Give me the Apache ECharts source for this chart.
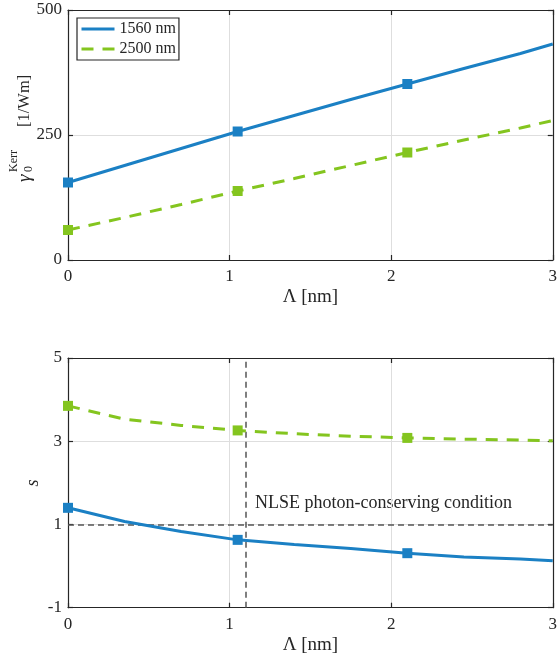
<!DOCTYPE html>
<html><head><meta charset="utf-8">
<script src="https://cdn.jsdelivr.net/npm/echarts@6/dist/echarts.min.js"></script>
<style>html,body{margin:0;padding:0;background:#fff}#c{width:560px;height:664px}</style>
</head><body><div id="c"></div>
<script>
// ---- data ----
const lambdaNm = [0, 0.35, 0.7, 1.05, 1.4, 1.75, 2.1, 2.45, 2.8, 3.0];
const markerIndex = [0, 3, 6];
const seriesNames = ['1560 nm', '2500 nm'];
const gamma1560 = [155, 189, 223, 257, 289, 321, 352, 383, 413, 432];
const gamma2500 = [60, 85, 111, 138, 163, 189, 215, 240, 264, 279];
const s1560 = [1.40, 1.07, 0.83, 0.63, 0.52, 0.42, 0.31, 0.22, 0.17, 0.13];
const s2500 = [3.85, 3.53, 3.38, 3.26, 3.18, 3.12, 3.08, 3.05, 3.03, 3.01];
const xTicks = [0, 1, 2, 3];
const gammaTicks = [0, 250, 500];
const sTicks = [-1, 1, 3, 5];
const conditionS = 1;
const conditionLambda = 1.1;
const conditionText = 'NLSE photon-conserving condition';
const xName = 'Λ [nm]';
const sName = 's';

// ---- style ----
const FONT = "'Liberation Serif','DejaVu Serif',serif";
const INK = '#262626';
const BLUE = '#1b80c4';
const GREEN = '#84c51f';
const GRIDC = '#dedede';

const zip = (xs, ys) => xs.map((x, i) => [x, ys[i]]);
const sym = (v, p) => markerIndex.includes(p.dataIndex) ? 'rect' : 'none';

function xAx(gi, pos) {
  const main = pos === 'bottom';
  return {
    type: 'value', gridIndex: gi, position: pos, min: xTicks[0], max: xTicks[xTicks.length - 1], interval: 1,
    name: main ? xName : '', nameLocation: 'middle', nameGap: 28,
    nameTextStyle: { fontFamily: FONT, fontSize: 19, color: INK },
    axisLine: { show: true, onZero: false, lineStyle: { color: INK, width: 1.2 } },
    axisTick: { show: true, inside: true, length: 5, lineStyle: { color: INK, width: 1.2 } },
    axisLabel: { show: main, fontFamily: FONT, fontSize: 17, color: INK, margin: 8 },
    splitLine: { show: main, lineStyle: { color: GRIDC, width: 1 } }
  };
}
function yAx(gi, pos, ticks) {
  const main = pos === 'left';
  return {
    type: 'value', gridIndex: gi, position: pos, min: ticks[0], max: ticks[ticks.length - 1],
    axisLine: { show: true, onZero: false, lineStyle: { color: INK, width: 1.2 } },
    axisTick: { show: true, inside: true, length: 5, lineStyle: { color: INK, width: 1.2 }, customValues: ticks },
    axisLabel: { show: main, fontFamily: FONT, fontSize: 17, color: INK, margin: 6, customValues: ticks },
    splitLine: { show: main, lineStyle: { color: GRIDC, width: 1 } }
  };
}

const chart = echarts.init(document.getElementById('c'), null, { renderer: 'canvas' });
chart.setOption({
  animation: false,
  backgroundColor: '#fff',
  grid: [
    { left: 68, top: 10, width: 486.7, height: 250 },
    { left: 68, top: 358, width: 486.7, height: 249.7 }
  ],
  xAxis: [xAx(0, 'bottom'), xAx(0, 'top'), xAx(1, 'bottom'), xAx(1, 'top')],
  yAxis: [yAx(0, 'left', gammaTicks), yAx(0, 'right', gammaTicks), yAx(1, 'left', sTicks), yAx(1, 'right', sTicks)],
  legend: {
    data: seriesNames, orient: 'vertical', left: 77, top: 18,
    padding: [3, 3, 3, 3], itemGap: 4, itemWidth: 33, itemHeight: 14,
    borderColor: INK, borderWidth: 1.2, backgroundColor: '#fff',
    itemStyle: { opacity: 0 },
    lineStyle: { width: 3 },
    textStyle: { fontFamily: FONT, fontSize: 16, color: INK },
    selectedMode: false
  },
  series: [
    { name: seriesNames[0], type: 'line', xAxisIndex: 0, yAxisIndex: 0, data: zip(lambdaNm, gamma1560),
      symbol: sym, symbolSize: 10, showAllSymbol: true, color: BLUE,
      lineStyle: { width: 3, color: BLUE }, itemStyle: { color: BLUE } },
    { name: seriesNames[1], type: 'line', xAxisIndex: 0, yAxisIndex: 0, data: zip(lambdaNm, gamma2500),
      symbol: sym, symbolSize: 10, showAllSymbol: true, color: GREEN,
      lineStyle: { width: 3, color: GREEN, type: [12, 9] }, itemStyle: { color: GREEN } },
    { name: seriesNames[0], type: 'line', xAxisIndex: 2, yAxisIndex: 2, data: zip(lambdaNm, s1560),
      symbol: sym, symbolSize: 10, showAllSymbol: true, color: BLUE, z: 3,
      lineStyle: { width: 3, color: BLUE }, itemStyle: { color: BLUE },
      markLine: { symbol: 'none', silent: true, label: { show: false }, z: 2,
        lineStyle: { color: '#555', type: [6, 4], width: 1.5 },
        data: [{ yAxis: conditionS }, { xAxis: conditionLambda }] } },
    { name: seriesNames[1], type: 'line', xAxisIndex: 2, yAxisIndex: 2, data: zip(lambdaNm, s2500),
      symbol: sym, symbolSize: 10, showAllSymbol: true, color: GREEN, z: 3,
      lineStyle: { width: 3, color: GREEN, type: [12, 9] }, itemStyle: { color: GREEN } }
  ],
  graphic: [
    { type: 'group', x: 0, y: 182, rotation: Math.PI / 2, children: [
      { type: 'text', x: 0, y: 25, style: { text: 'γ', fontFamily: FONT, fontSize: 19, fontStyle: 'italic', fill: INK, align: 'left', verticalAlign: 'middle' } },
      { type: 'text', x: 10, y: 29, style: { text: '0', fontFamily: FONT, fontSize: 12, fill: INK, align: 'left', verticalAlign: 'middle' } },
      { type: 'text', x: 10, y: 14, style: { text: 'Kerr', fontFamily: FONT, fontSize: 12, fill: INK, align: 'left', verticalAlign: 'middle' } },
      { type: 'text', x: 55, y: 25, style: { text: '[1/Wm]', fontFamily: FONT, fontSize: 16.5, fill: INK, align: 'left', verticalAlign: 'middle' } }
    ] },
    { type: 'text', x: 33.5, y: 483, rotation: Math.PI / 2,
      style: { text: sName, fontFamily: FONT, fontSize: 18, fontStyle: 'italic', fill: INK, align: 'center', verticalAlign: 'middle' } },
    { type: 'text', x: 255, y: 503,
      style: { text: conditionText, fontFamily: FONT, fontSize: 18, fill: INK, align: 'left', verticalAlign: 'middle' } }
  ]
});
</script>
</body></html>
